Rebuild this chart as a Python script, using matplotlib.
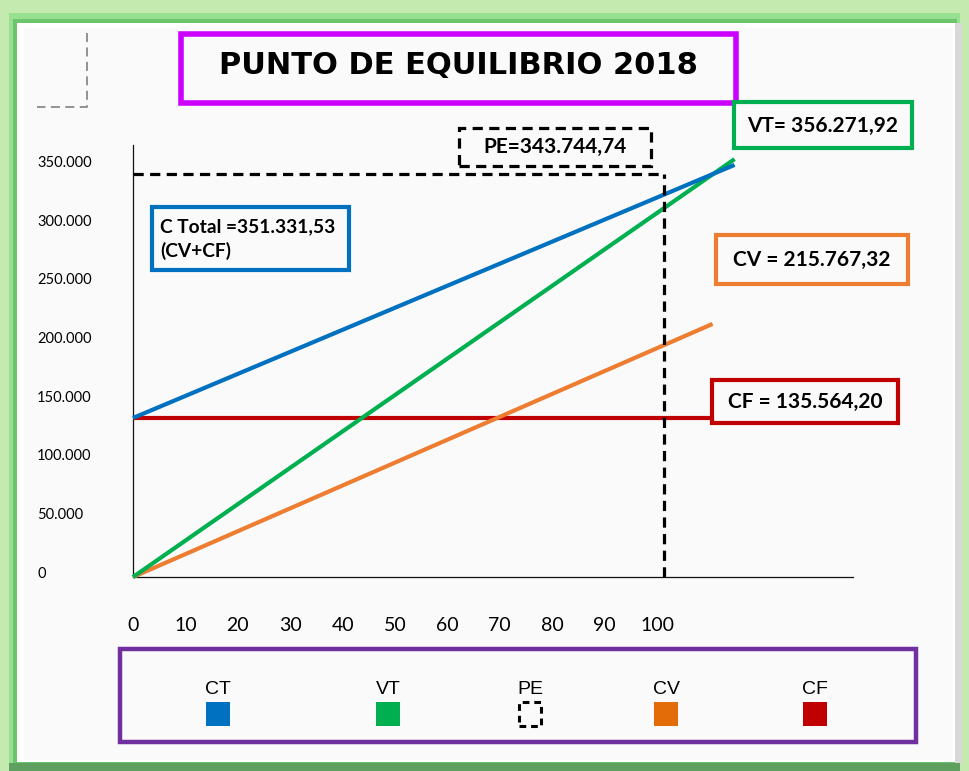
import matplotlib
matplotlib.use("Agg")
import matplotlib.pyplot as plt
from matplotlib.patches import Rectangle
from matplotlib.transforms import ScaledTranslation

# ---- data -------------------------------------------------------------
units_ct_vt = [0, 114.8]          # production units at start / end of CT and VT lines
units_cv_cf = [0, 110.6]          # production units at start / end of CV and CF lines
ct_values = [135564.20, 351331.53]  # costo total
vt_values = [0, 356271.92]          # ventas totales
cv_values = [0, 215767.32]          # costo variable
cf_values = [135564.20, 135564.20]  # costo fijo
pe_units = 101.3
pe_value = 343744.74

x_ticks = [0, 10, 20, 30, 40, 50, 60, 70, 80, 90, 100]
y_ticks = [0, 50000, 100000, 150000, 200000, 250000, 300000, 350000]
legend_labels = ["CT", "VT", "PE", "CV", "CF"]

title_text = "PUNTO DE EQUILIBRIO 2018"
ct_label = "C Total =351.331,53\n(CV+CF)"
vt_label = "VT= 356.271,92"
cv_label = "CV = 215.767,32"
cf_label = "CF = 135.564,20"
pe_label = "PE=343.744,74"

# ---- style --------------------------------------------------------------
C_BLUE = "#0070c0"
C_GREEN = "#00b050"
C_ORANGE = "#ed7d31"
C_ORANGE_KEY = "#e36c09"
C_RED = "#c00000"
C_MAGENTA = "#cc00ff"
C_PURPLE = "#7030a0"

W, H = 969, 771
fig = plt.figure(figsize=(W / 100, H / 100), dpi=100)
fig.patch.set_facecolor("#c5eab0")


def fx(x):
    return x / W


def fy(y):
    return 1 - y / H


def px_rect(x0, y0, x1, y1, **kw):
    r = Rectangle((fx(x0), fy(y1)), (x1 - x0) / W, (y1 - y0) / H,
                  transform=fig.transFigure, **kw)
    fig.add_artist(r)
    return r


# picture frame
px_rect(9, 13, 960, 765, facecolor="#97e092", edgecolor="none", zorder=0)
px_rect(13, 19, 957, 763, facecolor="#6cc46c", edgecolor="none", zorder=0)
px_rect(17, 23, 955, 762, facecolor="#ffffff", edgecolor="none", zorder=0)
px_rect(24, 28, 953, 760, facecolor="#fafafa", edgecolor="none", zorder=0)
px_rect(955, 23, 962, 764, facecolor="#d8d8d8", edgecolor="none", zorder=0)
px_rect(9, 763, 960, 771, facecolor="#5f9f5f", edgecolor="none", zorder=0)

# ---- main axes ----------------------------------------------------------
ax = fig.add_axes([133 / W, 1 - 577 / H, 720 / W, 432 / H])
ax.set_facecolor("none")
ax.set_xlim(0, 137.4)
ax.set_ylim(0, 368300)
for s in ("top", "right"):
    ax.spines[s].set_visible(False)
for s in ("left", "bottom"):
    ax.spines[s].set_linewidth(0.9)
    ax.spines[s].set_color("#111111")

ax.set_xticks(x_ticks)
ax.set_xticklabels([str(v) for v in x_ticks], family="Lato", fontsize=14)
ax.set_yticks(y_ticks)
ax.set_yticklabels([f"{v:,}".replace(",", ".") for v in y_ticks],
                   family="Lato", fontsize=10.5)
ax.tick_params(axis="x", length=0, pad=29)
ax.tick_params(axis="y", length=0, pad=69)
shift = ScaledTranslation(0, 5 / 100, fig.dpi_scale_trans)
for lbl in ax.get_yticklabels():
    lbl.set_ha("left")
    lbl.set_transform(lbl.get_transform() + shift)

line_kw = dict(lw=3, clip_on=False, solid_capstyle="butt")
ax.plot(units_cv_cf, cf_values, color=C_RED, zorder=3, **line_kw)
ax.plot(units_cv_cf, cv_values, color=C_ORANGE, zorder=3, **line_kw)
ax.plot(units_ct_vt, vt_values, color=C_GREEN, zorder=4, **line_kw)
ax.plot(units_ct_vt, ct_values, color=C_BLUE, zorder=5, **line_kw)

pe_kw = dict(color="black", lw=2.3, ls=(0, (3.2, 2.0)), clip_on=False, zorder=6)
ax.plot([0, pe_units], [pe_value, pe_value], **pe_kw)
ax.plot([pe_units, pe_units], [0, pe_value], **pe_kw)

# ---- annotations --------------------------------------------------------
# dashed corner mark, top left
fig.add_artist(plt.Line2D([fx(87), fx(87), fx(37)], [fy(33), fy(107), fy(107)],
                          transform=fig.transFigure, color="#8a8a8a", lw=1.3,
                          ls=(0, (5, 3))))

# title box
px_rect(181, 34, 736, 103, facecolor="#fafafa", edgecolor=C_MAGENTA, lw=4, zorder=5)
fig.text(fx(458), fy(66), title_text, ha="center", va="center",
         family="DejaVu Sans", fontweight="bold", fontsize=22, zorder=6)

# value boxes
box_font = dict(family="Lato", fontweight="bold", fontsize=15, zorder=8)
px_rect(459, 128, 651, 166, facecolor="#fafafa", edgecolor="black", lw=2.3,
        ls=(0, (3.2, 2.0)), zorder=7)
fig.text(fx(555), fy(147), pe_label, ha="center", va="center", **box_font)

px_rect(152, 207, 349, 270, facecolor="#fafafa", edgecolor=C_BLUE, lw=3, zorder=7)
fig.text(fx(160), fy(239), ct_label, ha="left", va="center", linespacing=1.45,
         **{**box_font, "fontsize": 13.8})

px_rect(734, 102, 912, 148, facecolor="#fafafa", edgecolor=C_GREEN, lw=3, zorder=7)
fig.text(fx(823), fy(126), vt_label, ha="center", va="center", **box_font)

px_rect(716, 235, 908, 284, facecolor="#fafafa", edgecolor=C_ORANGE, lw=3, zorder=7)
fig.text(fx(812), fy(260), cv_label, ha="center", va="center", **box_font)

px_rect(712, 380, 898, 423, facecolor="#fafafa", edgecolor=C_RED, lw=3, zorder=7)
fig.text(fx(805), fy(402), cf_label, ha="center", va="center", **box_font)

# ---- legend box ---------------------------------------------------------
px_rect(120, 649, 916, 742, facecolor="#fafafa", edgecolor=C_PURPLE, lw=3.2, zorder=5)
key_x = [218, 388, 530, 666, 815]
key_colors = [C_BLUE, C_GREEN, None, C_ORANGE_KEY, C_RED]
for lab, kx, kc in zip(legend_labels, key_x, key_colors):
    fig.text(fx(kx), fy(690), lab, ha="center", va="center",
             family=["Liberation Sans Narrow", "Liberation Sans"], fontsize=14,
             zorder=8)
    if kc is None:
        px_rect(kx - 11, 702, kx + 11, 726, facecolor="none", edgecolor="black",
                lw=2.2, ls=(0, (2.2, 1.6)), zorder=8)
    else:
        px_rect(kx - 12, 702, kx + 12, 726, facecolor=kc, edgecolor="none", zorder=8)

fig.savefig("out.png", dpi=100, facecolor=fig.get_facecolor())
